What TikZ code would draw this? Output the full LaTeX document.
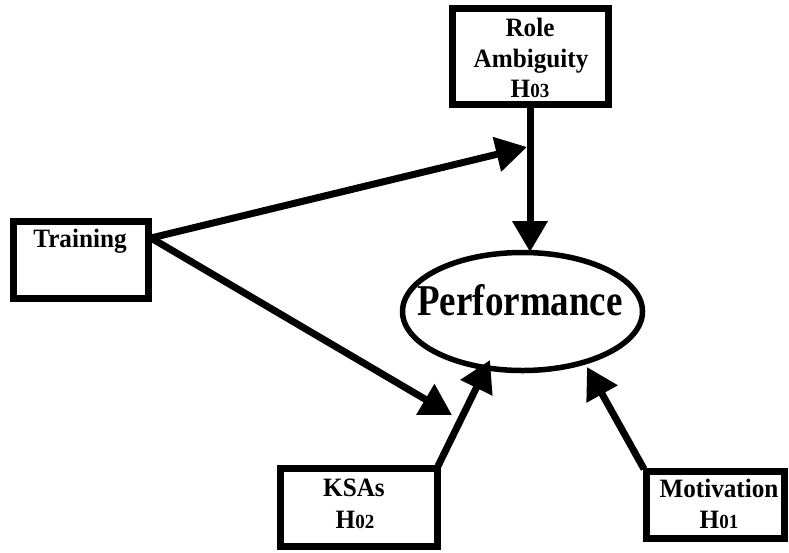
\documentclass[tikz,border=0pt]{standalone}
\usepackage{fontspec}
\setmainfont{Liberation Serif}[FakeStretch=0.95]
\newfontfamily\perffont[FakeStretch=0.84]{Liberation Serif}
\usetikzlibrary{arrows.meta,shapes.geometric}
\newcommand{\smdig}[1]{{\fontsize{20}{20}\selectfont #1}}
\tikzset{
  boxnode/.style={draw=black, line width=7pt, rectangle, inner sep=0pt, fill=white},
  lbl/.style={anchor=base, inner sep=0pt, font=\fontsize{26.5}{30}\selectfont\bfseries},
  conn/.style={line width=7pt, -{Triangle[length=31pt,width=34pt]}}
}
\begin{document}
\begin{tikzpicture}[x=1pt,y=-1pt]
\useasboundingbox[fill=white] (0,0) rectangle (789,552);
% boxes
\node[boxnode, minimum width=135pt, minimum height=77pt] (training) at (81,260) {};
\node[boxnode, minimum width=156pt, minimum height=96pt] (role) at (530.5,56.5) {};
\node[boxnode, minimum width=157pt, minimum height=78pt] (ksa) at (359,507.5) {};
\node[boxnode, minimum width=138pt, minimum height=67pt] (motiv) at (715.5,505) {};
\node[draw=black, line width=5.5pt, ellipse, minimum width=240pt, minimum height=118pt, inner sep=0pt] (perf) at (522.5,311.5) {};
% texts
\node[lbl] (ttrain) at (80,247) {Training};
\node[lbl] (trole1) at (530,36) {Role};
\node[lbl] (trole2) at (531,67) {Ambiguity};
\node[lbl] (trole3) at (530,97) {H\smdig{03}};
\node[lbl] (tksa1) at (354,496) {KSAs};
\node[lbl] (tksa2) at (355,528) {H\smdig{02}};
\node[lbl] (tmot1) at (719,497) {Motivation};
\node[lbl] (tmot2) at (719,528) {H\smdig{01}};
\node[anchor=base, inner sep=0pt, font=\perffont\fontsize{44}{44}\selectfont\bfseries] (tperf) at (520,315) {Performance};
% connector end points
\coordinate (tstart) at (151,238);
\coordinate (rolehit) at (527,147);
\coordinate (ksatip) at (452,415);
\coordinate (ksastart) at (438,466);
\coordinate (perfksa) at (490,360);
\coordinate (motstart) at (644,469);
\coordinate (perfmot) at (587,367);
\coordinate (perftop) at (530,252);
% connectors
\draw[conn] (tstart) -- (rolehit);
\draw[conn] (tstart) -- (ksatip);
\draw[conn] (role.south -| perftop) -- (perftop);
\draw[conn] (ksastart) -- (perfksa);
\draw[conn] (motstart) -- (perfmot);
\end{tikzpicture}
\end{document}
